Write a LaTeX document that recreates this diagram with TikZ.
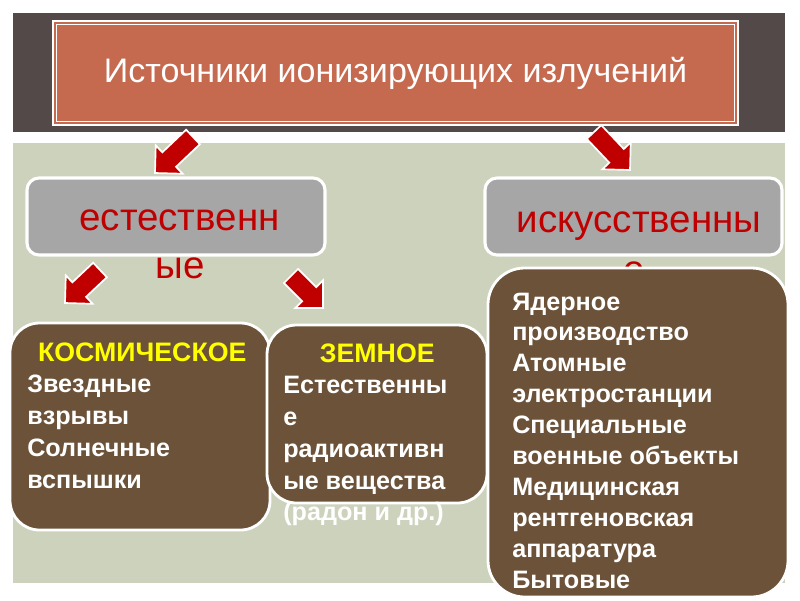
\documentclass[tikz,border=0pt]{standalone}
\usepackage{fontspec}
\setmainfont{Liberation Sans}
\usetikzlibrary{calc}
\newdimen\px \px=0.025cm
\definecolor{bandcol}{HTML}{524948}
\definecolor{titlecol}{HTML}{C5694F}
\definecolor{bgcol}{HTML}{CDD2BC}
\definecolor{graycol}{HTML}{A6A6A6}
\definecolor{redcol}{HTML}{C00000}
\definecolor{browncol}{HTML}{6B5239}
\definecolor{ytext}{HTML}{FFFF00}
\newcommand\blockarrow[2]{%
  \path ($(#2)!13.9pt!(#1)$) coordinate (bs);
  \draw[arrowshape] ($(#1)!7.1pt!90:(#2)$) -- ($(bs)!7.1pt!-90:(#1)$) -- ($(bs)!13.9pt!-90:(#1)$)
    -- (#2) -- ($(bs)!13.9pt!90:(#1)$) -- ($(bs)!7.1pt!90:(#1)$) -- ($(#1)!7.1pt!-90:(#2)$) -- cycle;}
\newcommand\headtext[1]{\textcolor{ytext}{\fontsize{19pt}{22.6pt}\selectfont #1}}
\begin{document}
\begin{tikzpicture}[x=0.025cm,y=-0.025cm,
  titlebox/.style={rectangle, fill=titlecol, draw=white, line width=1pt, inner sep=0pt, outer sep=0pt,
    text=white, font=\fontsize{24.2pt}{29pt}\selectfont},
  graybox/.style={rectangle, rounded corners=8.5pt, fill=graycol, draw=white, line width=2.2pt, inner sep=0pt},
  redtext/.style={text=redcol, inner sep=0pt, font=\fontsize{27.4pt}{33pt}\selectfont},
  brownbox/.style={rectangle, rounded corners=21pt, fill=browncol, draw=white, line width=2pt, inner sep=0pt},
  bodytext/.style={text=white, inner sep=0pt, anchor=base west, font=\fontsize{17.9pt}{22.6pt}\selectfont\bfseries},
  arrowshape/.style={fill=redcol, draw=white, line width=1.2pt, line join=miter}]
\useasboundingbox[fill=white] (0,0) rectangle (800,600);
\fill[bgcol] (13,143) rectangle (785,583);
\fill[bandcol] (13,13) rectangle (785,132);
\node[titlebox, minimum width=685\px, minimum height=104\px] (title) at (395.5,73) {Источники ионизирующих излучений};
\draw[white, line width=0.8pt] ($(title.south west)+(3.5,-3.5)$) rectangle ($(title.north east)+(-3.5,3.5)$);
% top arrows
\coordinate (a1t) at (193,137); \coordinate (a1h) at (155,173);
\coordinate (a2t) at (594,132); \coordinate (a2h) at (630,170);
\blockarrow{a1t}{a1h}
\blockarrow{a2t}{a2h}
% gray boxes
\node[graybox, minimum width=298\px, minimum height=77\px] (nat) at (176,216.5) {};
\node[graybox, minimum width=297\px, minimum height=77\px] (art) at (633.5,216.5) {};
\node[redtext, anchor=base] (nat1) at (179.5,230) {естественн};
\node[redtext, anchor=base] (nat2) at (180,278) {ые};
\node[redtext, anchor=base] (art1) at (639,232) {искусственны};
\node[redtext, anchor=base] (art2) at (634,282) {е};
% lower arrows
\coordinate (a3t) at (100,270); \coordinate (a3h) at (65,303);
\coordinate (a4t) at (291,276); \coordinate (a4h) at (323,308);
\blockarrow{a3t}{a3h}
\blockarrow{a4t}{a4h}
% brown boxes
\node[brownbox, minimum width=260\px, minimum height=207\px] (cosm) at (140,426.5) {};
\node[brownbox, minimum width=220\px, minimum height=178\px] (earth) at (377,414) {};
\node[brownbox, rounded corners=26pt, minimum width=300\px, minimum height=329\px] (man) at (638,432.5) {};
\node[bodytext] (cosmtext) at (27,361) {\parbox[t]{230\px}{\centering\headtext{КОСМИЧЕСКОЕ}\par
  \raggedright Звездные\\взрывы\\Солнечные\\вспышки}};
\node[bodytext] (earthtext) at (283,362) {\parbox[t]{188\px}{\centering\headtext{ЗЕМНОЕ}\par
  \raggedright Естественны\\е\\радиоактивн\\ые~вещества\\(радон~и~др.)}};
\node[bodytext, font=\fontsize{17.9pt}{22pt}\selectfont\bfseries] (mantext) at (512,310) {\parbox[t]{270\px}{\raggedright
  Ядерное\\производство\\Атомные\\электростанции\\Специальные\\военные~объекты\\Медицинская\\рентгеновская\\аппаратура\\Бытовые}};
\end{tikzpicture}
\end{document}
